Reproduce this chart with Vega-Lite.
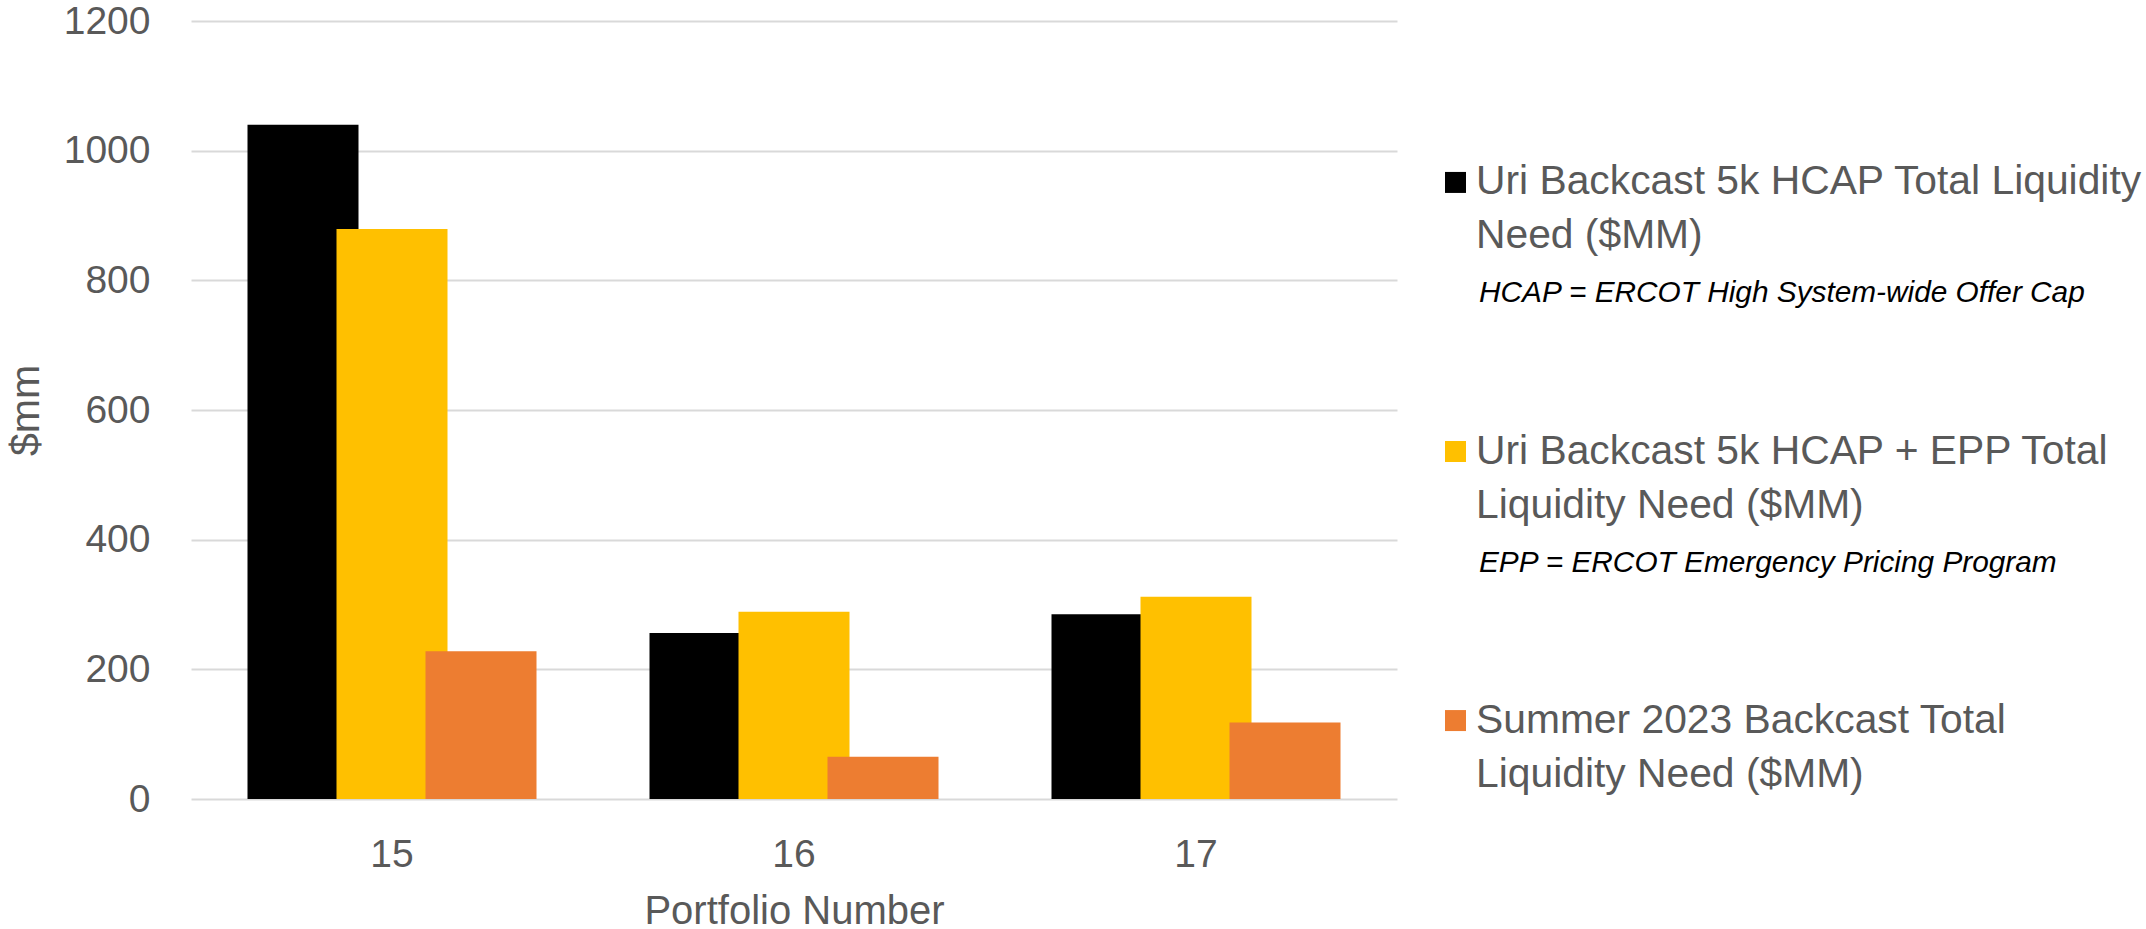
{
  "$schema": "https://vega.github.io/schema/vega-lite/v6.json",
  "padding": {"left": 5, "top": 2, "right": 0, "bottom": 0},
  "background": "white",
  "config": {"view": {"stroke": null}, "font": "Liberation Sans"},
  "spacing": 18,
  "hconcat": [
    {
      "width": 1206,
      "height": 778,
      "data": {
        "values": [
          {"portfolio": "15", "series": "Uri Backcast 5k HCAP Total Liquidity Need ($MM)", "value": 1040},
          {"portfolio": "15", "series": "Uri Backcast 5k HCAP + EPP Total Liquidity Need ($MM)", "value": 879},
          {"portfolio": "15", "series": "Summer 2023 Backcast Total Liquidity Need ($MM)", "value": 228},
          {"portfolio": "16", "series": "Uri Backcast 5k HCAP Total Liquidity Need ($MM)", "value": 256},
          {"portfolio": "16", "series": "Uri Backcast 5k HCAP + EPP Total Liquidity Need ($MM)", "value": 289},
          {"portfolio": "16", "series": "Summer 2023 Backcast Total Liquidity Need ($MM)", "value": 65},
          {"portfolio": "17", "series": "Uri Backcast 5k HCAP Total Liquidity Need ($MM)", "value": 285},
          {"portfolio": "17", "series": "Uri Backcast 5k HCAP + EPP Total Liquidity Need ($MM)", "value": 312},
          {"portfolio": "17", "series": "Summer 2023 Backcast Total Liquidity Need ($MM)", "value": 118}
        ]
      },
      "mark": {"type": "bar", "width": 111},
      "encoding": {
        "x": {
          "field": "portfolio",
          "type": "nominal",
          "scale": {"paddingInner": 0.3358, "paddingOuter": 0.1679},
          "axis": {
            "title": "Portfolio Number",
            "labelAngle": 0,
            "ticks": false,
            "domain": false,
            "labelFontSize": 39,
            "labelColor": "#595959",
            "labelPadding": 36,
            "titleFontSize": 40,
            "titleColor": "#595959",
            "titleFontWeight": "normal",
            "titlePadding": 17
          }
        },
        "xOffset": {
          "field": "series",
          "type": "nominal",
          "sort": [
            "Uri Backcast 5k HCAP Total Liquidity Need ($MM)",
            "Uri Backcast 5k HCAP + EPP Total Liquidity Need ($MM)",
            "Summer 2023 Backcast Total Liquidity Need ($MM)"
          ],
          "scale": {"paddingInner": 0, "paddingOuter": 0}
        },
        "y": {
          "field": "value",
          "type": "quantitative",
          "scale": {"domain": [0, 1200]},
          "axis": {
            "values": [0, 200, 400, 600, 800, 1000, 1200],
            "format": "d",
            "title": "$mm",
            "ticks": false,
            "domain": false,
            "gridColor": "#D9D9D9",
            "gridWidth": 2,
            "labelFontSize": 39,
            "labelColor": "#595959",
            "labelPadding": 41,
            "titleFontSize": 41,
            "titleColor": "#595959",
            "titleFontWeight": "normal",
            "titlePadding": 16
          }
        },
        "color": {
          "field": "series",
          "type": "nominal",
          "scale": {
            "domain": [
              "Uri Backcast 5k HCAP Total Liquidity Need ($MM)",
              "Uri Backcast 5k HCAP + EPP Total Liquidity Need ($MM)",
              "Summer 2023 Backcast Total Liquidity Need ($MM)"
            ],
            "range": ["#000000", "#FFC000", "#ED7D31"]
          },
          "legend": null
        }
      }
    },
    {
      "width": 81,
      "height": 861,
      "data": {
        "values": [
          {"series": "Uri Backcast 5k HCAP Total Liquidity Need ($MM)", "line1": "Uri Backcast 5k HCAP Total Liquidity", "line2": "Need ($MM)", "note": "HCAP = ERCOT High System-wide Offer Cap"},
          {"series": "Uri Backcast 5k HCAP + EPP Total Liquidity Need ($MM)", "line1": "Uri Backcast 5k HCAP + EPP Total", "line2": "Liquidity Need ($MM)", "note": "EPP = ERCOT Emergency Pricing Program"},
          {"series": "Summer 2023 Backcast Total Liquidity Need ($MM)", "line1": "Summer 2023 Backcast Total", "line2": "Liquidity Need ($MM)", "note": ""}
        ]
      },
      "encoding": {
        "y": {
          "field": "series",
          "type": "nominal",
          "sort": null,
          "scale": {"type": "point", "padding": 0.6},
          "axis": null
        }
      },
      "layer": [
        {
          "mark": {"type": "square", "size": 441, "opacity": 1, "filled": true},
          "encoding": {
            "color": {
              "field": "series",
              "type": "nominal",
              "scale": {
                "domain": [
                  "Uri Backcast 5k HCAP Total Liquidity Need ($MM)",
                  "Uri Backcast 5k HCAP + EPP Total Liquidity Need ($MM)",
                  "Summer 2023 Backcast Total Liquidity Need ($MM)"
                ],
                "range": ["#000000", "#FFC000", "#ED7D31"]
              },
              "legend": null
            }
          }
        },
        {
          "mark": {"type": "text", "align": "left", "baseline": "middle", "dx": 20.5, "fontSize": 40.8, "color": "#595959"},
          "encoding": {"text": {"field": "line1", "type": "nominal"}}
        },
        {
          "mark": {"type": "text", "align": "left", "baseline": "middle", "dx": 20.5, "dy": 54, "fontSize": 40.8, "color": "#595959"},
          "encoding": {"text": {"field": "line2", "type": "nominal"}}
        },
        {
          "mark": {"type": "text", "align": "left", "baseline": "middle", "dx": 23.5, "dy": 111, "fontSize": 29.8, "fontStyle": "italic", "color": "#000000"},
          "encoding": {"text": {"field": "note", "type": "nominal"}}
        }
      ]
    }
  ]
}
